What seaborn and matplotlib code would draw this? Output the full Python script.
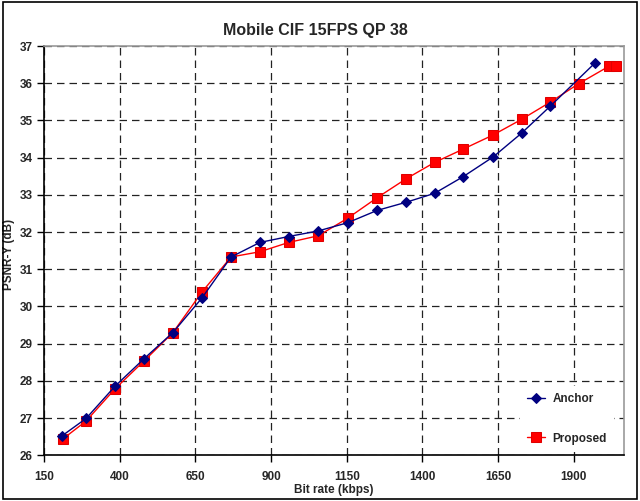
import matplotlib
matplotlib.use("Agg")
import matplotlib.pyplot as plt
import seaborn as sns
import pandas as pd
from matplotlib.patches import Rectangle

anchor_rate = [209, 289, 385, 481, 576, 672, 768, 863, 958, 1056, 1153, 1250, 1346, 1440, 1535, 1634, 1728, 1822, 1971]
anchor_psnr = [26.52, 26.99, 27.86, 28.60, 29.30, 30.23, 31.33, 31.72, 31.88, 32.03, 32.25, 32.58, 32.80, 33.04, 33.49, 34.02, 34.66, 35.38, 36.55]
proposed_rate = [214, 289, 385, 481, 576, 672, 768, 863, 958, 1056, 1153, 1250, 1346, 1440, 1535, 1634, 1728, 1822, 1917, 2015, 2041]
proposed_psnr = [26.45, 26.92, 27.79, 28.54, 29.30, 30.39, 31.33, 31.47, 31.72, 31.90, 32.37, 32.92, 33.43, 33.87, 34.23, 34.61, 35.03, 35.49, 35.99, 36.45, 36.47]
x_ticks = [150, 400, 650, 900, 1150, 1400, 1650, 1900]
y_ticks = [26, 27, 28, 29, 30, 31, 32, 33, 34, 35, 36, 37]

sns.set_theme(style="white")
plt.rcParams['font.family'] = ['Liberation Sans', 'DejaVu Sans']

df_a = pd.DataFrame({"rate": anchor_rate, "psnr": anchor_psnr})
df_p = pd.DataFrame({"rate": proposed_rate, "psnr": proposed_psnr})

fig = plt.figure(figsize=(6.4, 5.01), dpi=100)
ax = fig.add_axes([44/640, 1-455.3/501, (624-44)/640, (455.3-46)/501])

sns.lineplot(data=df_a, x="rate", y="psnr", ax=ax, color="#000080", marker="D",
             markersize=5, markeredgecolor="#000080", linewidth=1.0, label="Anchor", zorder=4)
sns.lineplot(data=df_p, x="rate", y="psnr", ax=ax, color="#ff0000", marker="s",
             markersize=6.5, markeredgecolor="#e00000", linewidth=1.0, label="Proposed", zorder=3)

ax.set_xlim(150, 2066)
ax.set_ylim(26, 37)
ax.set_xticks(x_ticks)
ax.set_yticks(y_ticks)
ax.tick_params(axis='both', which='major', direction='out', length=5, width=1, color='black',
               labelsize=8.5, bottom=True, left=True)
ax.tick_params(axis='x', pad=6)
ax.tick_params(axis='y', pad=3)
for lab in ax.get_xticklabels() + ax.get_yticklabels():
    lab.set_fontweight('bold')

ax.grid(True, color='#222222', linestyle=(0, (6, 4)), linewidth=0.9)
ax.set_axisbelow(True)

for s in ['left', 'bottom']:
    ax.spines[s].set_color('black')
    ax.spines[s].set_linewidth(1.2)
for s in ['top', 'right']:
    ax.spines[s].set_color('#999999')
    ax.spines[s].set_linewidth(1.2)

ax.set_xlabel("Bit rate (kbps)", fontsize=8.5, fontweight='bold', labelpad=1)
ax.set_ylabel("PSNR-Y (dB)", fontsize=8.5, fontweight='bold')
ax.yaxis.set_label_coords((15-44)/580, 0.49)

fig.text(315/640, 1-30/501, "Mobile CIF 15FPS QP 38", ha='center', va='center',
         fontsize=11.5, fontweight='bold')

leg = ax.legend(loc='lower right', bbox_to_anchor=((614-44)/580, 0.009), frameon=True,
                fancybox=False, facecolor='white', edgecolor='none', framealpha=1,
                labelspacing=2.3, handlelength=1.45, handletextpad=0.68, borderpad=0.6,
                borderaxespad=0, prop={'weight': 'bold', 'size': 8.5})

fig.patches.append(Rectangle((0.004, 0.004), 0.992, 0.992, transform=fig.transFigure,
                             fill=False, edgecolor='black', linewidth=1.2))

fig.savefig("out.png", dpi=100)
